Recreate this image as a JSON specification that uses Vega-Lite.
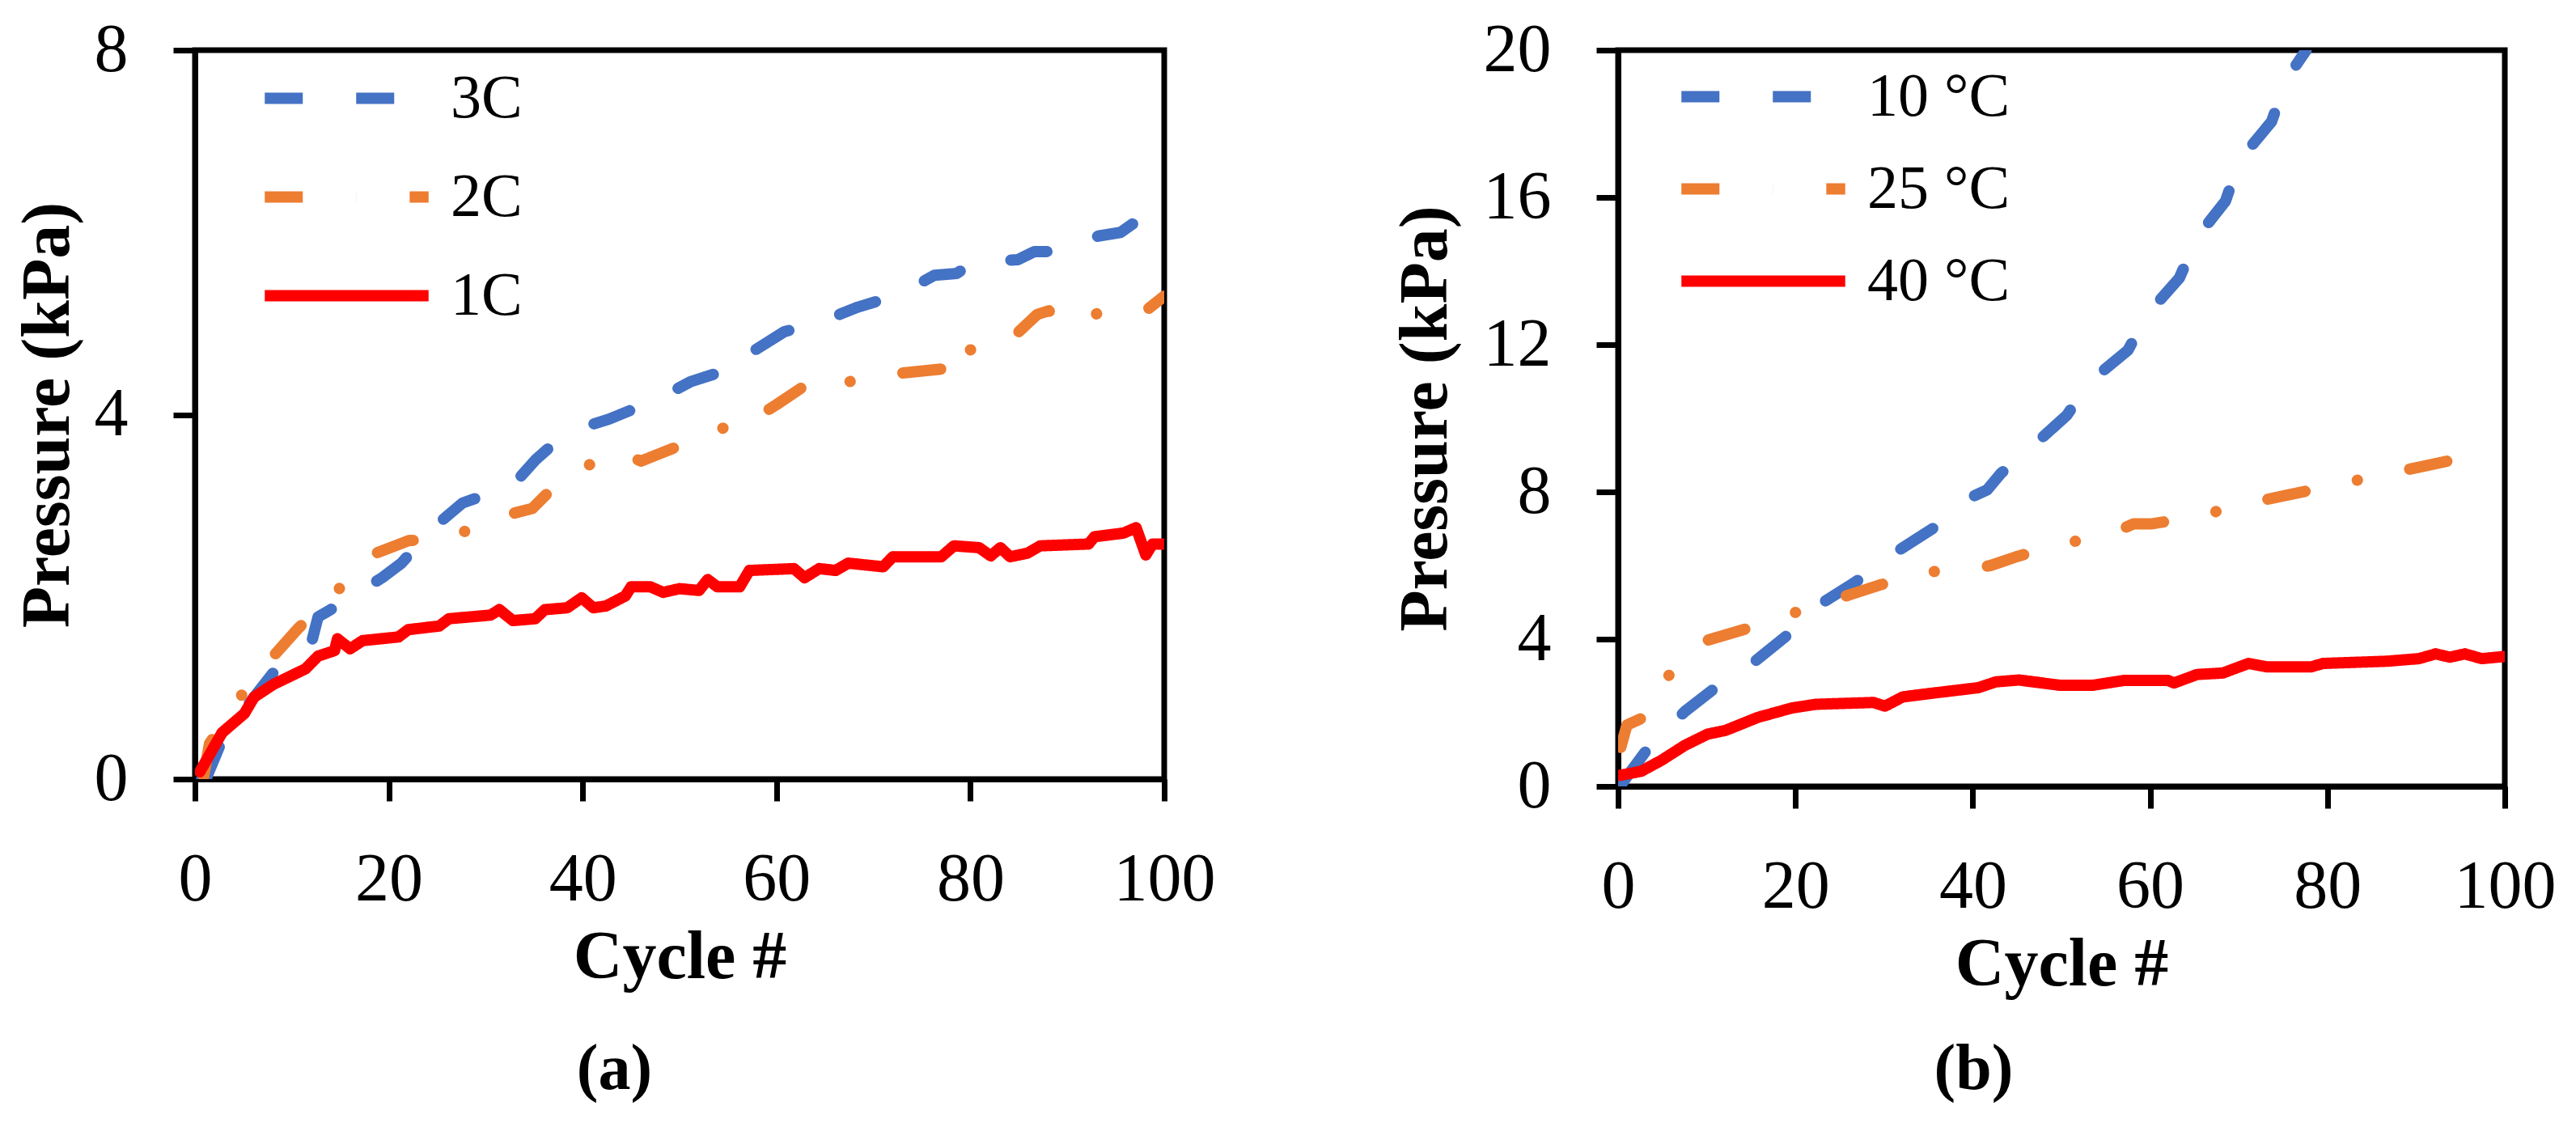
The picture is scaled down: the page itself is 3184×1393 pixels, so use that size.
{
  "$schema": "https://vega.github.io/schema/vega-lite/v6.json",
  "background": "white",
  "padding": {"left": 13, "top": 16, "right": 0, "bottom": 0},
  "spacing": 210,
  "config": {
    "font": "Liberation Serif",
    "view": {"stroke": "black", "strokeWidth": 7},
    "axis": {
      "grid": false,
      "domainColor": "black",
      "domainWidth": 7,
      "tickColor": "black",
      "tickWidth": 7,
      "tickSize": 27,
      "labelFont": "Liberation Serif",
      "labelFontSize": 84,
      "labelColor": "black",
      "labelPadding": 56,
      "labelFlush": false,
      "labelOverlap": false,
      "titleFont": "Liberation Serif",
      "titleFontSize": 84,
      "titleFontWeight": "bold",
      "titleColor": "black"
    },
    "legend": {
      "title": null,
      "orient": "none",
      "symbolType": "M-1.5,0H1.5",
      "symbolSize": 18225,
      "symbolStrokeWidth": 15,
      "labelFont": "Liberation Serif",
      "labelFontSize": 76,
      "labelColor": "black",
      "labelLimit": 0,
      "labelOffset": 54,
      "padding": 0
    },
    "title": {"font": "Liberation Serif", "fontSize": 80, "fontWeight": "bold", "color": "black"},
    "line": {"strokeWidth": 14, "strokeCap": "round", "strokeJoin": "round"}
  },
  "datasets": {
    "a": [
      {"series": "3C", "cycle": 0.7, "pressure": 0},
      {"series": "3C", "cycle": 1.2, "pressure": 0.02},
      {"series": "3C", "cycle": 2.8, "pressure": 0.43},
      {"series": "3C", "cycle": 5, "pressure": 0.75},
      {"series": "3C", "cycle": 8.1, "pressure": 1.17},
      {"series": "3C", "cycle": 10, "pressure": 1.3},
      {"series": "3C", "cycle": 12, "pressure": 1.49},
      {"series": "3C", "cycle": 12.7, "pressure": 1.78},
      {"series": "3C", "cycle": 14, "pressure": 1.86},
      {"series": "3C", "cycle": 16, "pressure": 2.0},
      {"series": "3C", "cycle": 18.1, "pressure": 2.13},
      {"series": "3C", "cycle": 19.3, "pressure": 2.21},
      {"series": "3C", "cycle": 21.3, "pressure": 2.37},
      {"series": "3C", "cycle": 24.6, "pressure": 2.76},
      {"series": "3C", "cycle": 27.6, "pressure": 3.03},
      {"series": "3C", "cycle": 30, "pressure": 3.12},
      {"series": "3C", "cycle": 32.5, "pressure": 3.19},
      {"series": "3C", "cycle": 35.1, "pressure": 3.5},
      {"series": "3C", "cycle": 37, "pressure": 3.68},
      {"series": "3C", "cycle": 39.1, "pressure": 3.83},
      {"series": "3C", "cycle": 42.7, "pressure": 3.95},
      {"series": "3C", "cycle": 45, "pressure": 4.05},
      {"series": "3C", "cycle": 47.4, "pressure": 4.15},
      {"series": "3C", "cycle": 51.1, "pressure": 4.36},
      {"series": "3C", "cycle": 54.6, "pressure": 4.48},
      {"series": "3C", "cycle": 55.5, "pressure": 4.46},
      {"series": "3C", "cycle": 57.5, "pressure": 4.69},
      {"series": "3C", "cycle": 60.8, "pressure": 4.91},
      {"series": "3C", "cycle": 64.4, "pressure": 5.01},
      {"series": "3C", "cycle": 68.4, "pressure": 5.18},
      {"series": "3C", "cycle": 72.7, "pressure": 5.32},
      {"series": "3C", "cycle": 76.3, "pressure": 5.53},
      {"series": "3C", "cycle": 78.6, "pressure": 5.55},
      {"series": "3C", "cycle": 80.3, "pressure": 5.67},
      {"series": "3C", "cycle": 84.9, "pressure": 5.7},
      {"series": "3C", "cycle": 86.6, "pressure": 5.79},
      {"series": "3C", "cycle": 88.9, "pressure": 5.79},
      {"series": "3C", "cycle": 93.2, "pressure": 5.96},
      {"series": "3C", "cycle": 95.5, "pressure": 6.0},
      {"series": "3C", "cycle": 97.1, "pressure": 6.12},
      {"series": "2C", "cycle": 0.9, "pressure": 0.03},
      {"series": "2C", "cycle": 1.5, "pressure": 0.39},
      {"series": "2C", "cycle": 4.5, "pressure": 0.88},
      {"series": "2C", "cycle": 7.75, "pressure": 1.31},
      {"series": "2C", "cycle": 10.7, "pressure": 1.66},
      {"series": "2C", "cycle": 14.4, "pressure": 2.03},
      {"series": "2C", "cycle": 17.7, "pressure": 2.44},
      {"series": "2C", "cycle": 22.1, "pressure": 2.62},
      {"series": "2C", "cycle": 25.9, "pressure": 2.62},
      {"series": "2C", "cycle": 30.4, "pressure": 2.85},
      {"series": "2C", "cycle": 34.8, "pressure": 2.97},
      {"series": "2C", "cycle": 38.1, "pressure": 3.32},
      {"series": "2C", "cycle": 41.7, "pressure": 3.5},
      {"series": "2C", "cycle": 43.7, "pressure": 3.6},
      {"series": "2C", "cycle": 46, "pressure": 3.49},
      {"series": "2C", "cycle": 50.5, "pressure": 3.68},
      {"series": "2C", "cycle": 54.9, "pressure": 3.87},
      {"series": "2C", "cycle": 56.2, "pressure": 3.89},
      {"series": "2C", "cycle": 57.5, "pressure": 4.03},
      {"series": "2C", "cycle": 58.5, "pressure": 4.01},
      {"series": "2C", "cycle": 60, "pressure": 4.11},
      {"series": "2C", "cycle": 63.5, "pressure": 4.36},
      {"series": "2C", "cycle": 65.8, "pressure": 4.43},
      {"series": "2C", "cycle": 67.4, "pressure": 4.36},
      {"series": "2C", "cycle": 72.4, "pressure": 4.45},
      {"series": "2C", "cycle": 77, "pressure": 4.5},
      {"series": "2C", "cycle": 78.2, "pressure": 4.38},
      {"series": "2C", "cycle": 79.5, "pressure": 4.7},
      {"series": "2C", "cycle": 83.8, "pressure": 4.79},
      {"series": "2C", "cycle": 86.9, "pressure": 5.1},
      {"series": "2C", "cycle": 88.1, "pressure": 5.14},
      {"series": "2C", "cycle": 89.2, "pressure": 5.01},
      {"series": "2C", "cycle": 90.2, "pressure": 5.05},
      {"series": "2C", "cycle": 94.2, "pressure": 5.13},
      {"series": "2C", "cycle": 98.1, "pressure": 5.14},
      {"series": "2C", "cycle": 100, "pressure": 5.3},
      {"series": "1C", "cycle": 0.5, "pressure": 0.08},
      {"series": "1C", "cycle": 2.8, "pressure": 0.51},
      {"series": "1C", "cycle": 5.1, "pressure": 0.72},
      {"series": "1C", "cycle": 6.1, "pressure": 0.9},
      {"series": "1C", "cycle": 8.1, "pressure": 1.04},
      {"series": "1C", "cycle": 11.4, "pressure": 1.21},
      {"series": "1C", "cycle": 12.7, "pressure": 1.35},
      {"series": "1C", "cycle": 14.4, "pressure": 1.41},
      {"series": "1C", "cycle": 14.7, "pressure": 1.54},
      {"series": "1C", "cycle": 16, "pressure": 1.43},
      {"series": "1C", "cycle": 17.3, "pressure": 1.52},
      {"series": "1C", "cycle": 21, "pressure": 1.56},
      {"series": "1C", "cycle": 22, "pressure": 1.64},
      {"series": "1C", "cycle": 25.2, "pressure": 1.68},
      {"series": "1C", "cycle": 26.2, "pressure": 1.76},
      {"series": "1C", "cycle": 30.5, "pressure": 1.8},
      {"series": "1C", "cycle": 31.4, "pressure": 1.86},
      {"series": "1C", "cycle": 32.8, "pressure": 1.74},
      {"series": "1C", "cycle": 35.1, "pressure": 1.76},
      {"series": "1C", "cycle": 36.1, "pressure": 1.86},
      {"series": "1C", "cycle": 38.4, "pressure": 1.88},
      {"series": "1C", "cycle": 39.9, "pressure": 1.99},
      {"series": "1C", "cycle": 41.1, "pressure": 1.88},
      {"series": "1C", "cycle": 42.4, "pressure": 1.9},
      {"series": "1C", "cycle": 44.4, "pressure": 2.01},
      {"series": "1C", "cycle": 45, "pressure": 2.11},
      {"series": "1C", "cycle": 47, "pressure": 2.11},
      {"series": "1C", "cycle": 48.3, "pressure": 2.05},
      {"series": "1C", "cycle": 50, "pressure": 2.09},
      {"series": "1C", "cycle": 52, "pressure": 2.07},
      {"series": "1C", "cycle": 52.9, "pressure": 2.19},
      {"series": "1C", "cycle": 53.9, "pressure": 2.11},
      {"series": "1C", "cycle": 56.2, "pressure": 2.11},
      {"series": "1C", "cycle": 57.2, "pressure": 2.29},
      {"series": "1C", "cycle": 61.8, "pressure": 2.31},
      {"series": "1C", "cycle": 62.9, "pressure": 2.21},
      {"series": "1C", "cycle": 64.4, "pressure": 2.31},
      {"series": "1C", "cycle": 66.1, "pressure": 2.29},
      {"series": "1C", "cycle": 67.4, "pressure": 2.37},
      {"series": "1C", "cycle": 71, "pressure": 2.33},
      {"series": "1C", "cycle": 72, "pressure": 2.44},
      {"series": "1C", "cycle": 77, "pressure": 2.44},
      {"series": "1C", "cycle": 78.3, "pressure": 2.56},
      {"series": "1C", "cycle": 80.9, "pressure": 2.54},
      {"series": "1C", "cycle": 82.1, "pressure": 2.45},
      {"series": "1C", "cycle": 83.1, "pressure": 2.54},
      {"series": "1C", "cycle": 84.1, "pressure": 2.44},
      {"series": "1C", "cycle": 85.9, "pressure": 2.48},
      {"series": "1C", "cycle": 87.2, "pressure": 2.56},
      {"series": "1C", "cycle": 92.2, "pressure": 2.58},
      {"series": "1C", "cycle": 92.8, "pressure": 2.66},
      {"series": "1C", "cycle": 95.8, "pressure": 2.7},
      {"series": "1C", "cycle": 97.1, "pressure": 2.76},
      {"series": "1C", "cycle": 98.1, "pressure": 2.46},
      {"series": "1C", "cycle": 98.8, "pressure": 2.58},
      {"series": "1C", "cycle": 100, "pressure": 2.58}
    ],
    "b": [
      {"series": "10 °C", "cycle": 0.5, "pressure": 0.1},
      {"series": "10 °C", "cycle": 3.6, "pressure": 1.11},
      {"series": "10 °C", "cycle": 7.5, "pressure": 2.03},
      {"series": "10 °C", "cycle": 11.5, "pressure": 2.78},
      {"series": "10 °C", "cycle": 15.4, "pressure": 3.39},
      {"series": "10 °C", "cycle": 19.3, "pressure": 4.15},
      {"series": "10 °C", "cycle": 23.2, "pressure": 5.01},
      {"series": "10 °C", "cycle": 27.2, "pressure": 5.62},
      {"series": "10 °C", "cycle": 31.1, "pressure": 6.33},
      {"series": "10 °C", "cycle": 35.4, "pressure": 6.99},
      {"series": "10 °C", "cycle": 39.3, "pressure": 7.8},
      {"series": "10 °C", "cycle": 41.6, "pressure": 8.05},
      {"series": "10 °C", "cycle": 43.2, "pressure": 8.51},
      {"series": "10 °C", "cycle": 47.1, "pressure": 9.32},
      {"series": "10 °C", "cycle": 50.6, "pressure": 10.08},
      {"series": "10 °C", "cycle": 53.2, "pressure": 10.99},
      {"series": "10 °C", "cycle": 57.5, "pressure": 11.85},
      {"series": "10 °C", "cycle": 59.7, "pressure": 12.83},
      {"series": "10 °C", "cycle": 63.3, "pressure": 13.81},
      {"series": "10 °C", "cycle": 65.3, "pressure": 14.92},
      {"series": "10 °C", "cycle": 68.5, "pressure": 15.9},
      {"series": "10 °C", "cycle": 70.1, "pressure": 17.02},
      {"series": "10 °C", "cycle": 73.7, "pressure": 18.06},
      {"series": "10 °C", "cycle": 75.3, "pressure": 19.18},
      {"series": "10 °C", "cycle": 77.6, "pressure": 20},
      {"series": "25 °C", "cycle": 0.3, "pressure": 1.06},
      {"series": "25 °C", "cycle": 1, "pressure": 1.67},
      {"series": "25 °C", "cycle": 3.3, "pressure": 1.92},
      {"series": "25 °C", "cycle": 5.9, "pressure": 3.09},
      {"series": "25 °C", "cycle": 9.8, "pressure": 3.95},
      {"series": "25 °C", "cycle": 14.7, "pressure": 4.3},
      {"series": "25 °C", "cycle": 19.8, "pressure": 4.71},
      {"series": "25 °C", "cycle": 24.9, "pressure": 5.11},
      {"series": "25 °C", "cycle": 29.5, "pressure": 5.47},
      {"series": "25 °C", "cycle": 34.7, "pressure": 5.82},
      {"series": "25 °C", "cycle": 40.1, "pressure": 5.92},
      {"series": "25 °C", "cycle": 42, "pressure": 6.0},
      {"series": "25 °C", "cycle": 44.8, "pressure": 6.23},
      {"series": "25 °C", "cycle": 50.1, "pressure": 6.6},
      {"series": "25 °C", "cycle": 55.2, "pressure": 6.81},
      {"series": "25 °C", "cycle": 58.1, "pressure": 7.13},
      {"series": "25 °C", "cycle": 60.1, "pressure": 7.13},
      {"series": "25 °C", "cycle": 65.3, "pressure": 7.33},
      {"series": "25 °C", "cycle": 70.5, "pressure": 7.66},
      {"series": "25 °C", "cycle": 75.6, "pressure": 7.92},
      {"series": "25 °C", "cycle": 80.7, "pressure": 8.18},
      {"series": "25 °C", "cycle": 85.7, "pressure": 8.44},
      {"series": "25 °C", "cycle": 90.9, "pressure": 8.7},
      {"series": "25 °C", "cycle": 96.1, "pressure": 8.97},
      {"series": "40 °C", "cycle": 0.2, "pressure": 0.3},
      {"series": "40 °C", "cycle": 2.6, "pressure": 0.41},
      {"series": "40 °C", "cycle": 4.9, "pressure": 0.71},
      {"series": "40 °C", "cycle": 7.5, "pressure": 1.11},
      {"series": "40 °C", "cycle": 10.1, "pressure": 1.42},
      {"series": "40 °C", "cycle": 12.1, "pressure": 1.52},
      {"series": "40 °C", "cycle": 15.7, "pressure": 1.87},
      {"series": "40 °C", "cycle": 19.6, "pressure": 2.13},
      {"series": "40 °C", "cycle": 22.3, "pressure": 2.23},
      {"series": "40 °C", "cycle": 28.8, "pressure": 2.28},
      {"series": "40 °C", "cycle": 30.1, "pressure": 2.18},
      {"series": "40 °C", "cycle": 32.1, "pressure": 2.43},
      {"series": "40 °C", "cycle": 35.4, "pressure": 2.53},
      {"series": "40 °C", "cycle": 40.6, "pressure": 2.68},
      {"series": "40 °C", "cycle": 42.6, "pressure": 2.84},
      {"series": "40 °C", "cycle": 45.2, "pressure": 2.89},
      {"series": "40 °C", "cycle": 49.7, "pressure": 2.75},
      {"series": "40 °C", "cycle": 53.6, "pressure": 2.75},
      {"series": "40 °C", "cycle": 57.1, "pressure": 2.88},
      {"series": "40 °C", "cycle": 62, "pressure": 2.88},
      {"series": "40 °C", "cycle": 62.7, "pressure": 2.81},
      {"series": "40 °C", "cycle": 65.3, "pressure": 3.04},
      {"series": "40 °C", "cycle": 68.2, "pressure": 3.08},
      {"series": "40 °C", "cycle": 71.1, "pressure": 3.34},
      {"series": "40 °C", "cycle": 73.1, "pressure": 3.25},
      {"series": "40 °C", "cycle": 78.2, "pressure": 3.25},
      {"series": "40 °C", "cycle": 79.5, "pressure": 3.34},
      {"series": "40 °C", "cycle": 86.7, "pressure": 3.4},
      {"series": "40 °C", "cycle": 90.3, "pressure": 3.47},
      {"series": "40 °C", "cycle": 92.2, "pressure": 3.6},
      {"series": "40 °C", "cycle": 93.8, "pressure": 3.51},
      {"series": "40 °C", "cycle": 95.5, "pressure": 3.6},
      {"series": "40 °C", "cycle": 97.4, "pressure": 3.47},
      {"series": "40 °C", "cycle": 100, "pressure": 3.53}
    ]
  },
  "hconcat": [
    {
      "width": 1198,
      "height": 901,
      "data": {"name": "a"},
      "title": {"text": "(a)", "orient": "bottom", "anchor": "middle", "frame": "bounds", "offset": 58},
      "mark": {"type": "line", "clip": true},
      "encoding": {
        "x": {
          "field": "cycle", "type": "quantitative",
          "scale": {"domain": [0, 100], "nice": false},
          "axis": {"values": [0, 20, 40, 60, 80, 100], "title": "Cycle #", "titlePadding": 13}
        },
        "y": {
          "field": "pressure", "type": "quantitative",
          "scale": {"domain": [0, 8], "nice": false},
          "axis": {"values": [0, 4, 8], "title": "Pressure (kPa)", "titlePadding": 14}
        },
        "color": {
          "field": "series", "type": "nominal",
          "scale": {"domain": ["3C", "2C", "1C"], "range": ["#4472C4", "#ED7D31", "#FF0000"]},
          "legend": {
            "legendX": 113, "legendY": -15, "rowPadding": 9,
            "encode": {"symbols": {"update": {"strokeCap": {"value": "round"}}}}
          }
        },
        "strokeDash": {
          "field": "series", "type": "nominal",
          "scale": {"domain": ["3C", "2C", "1C"], "range": [[47, 66], [47, 66, 0.1, 66], [1, 0]]}
        }
      }
    },
    {
      "width": 1096,
      "height": 910,
      "data": {"name": "b"},
      "title": {"text": "(b)", "orient": "bottom", "anchor": "middle", "frame": "bounds", "offset": 49},
      "mark": {"type": "line", "clip": true},
      "encoding": {
        "x": {
          "field": "cycle", "type": "quantitative",
          "scale": {"domain": [0, 100], "nice": false},
          "axis": {"values": [0, 20, 40, 60, 80, 100], "title": "Cycle #", "titlePadding": 13}
        },
        "y": {
          "field": "pressure", "type": "quantitative",
          "scale": {"domain": [0, 20], "nice": false},
          "axis": {"values": [0, 4, 8, 12, 16, 20], "title": "Pressure (kPa)", "titlePadding": 28}
        },
        "color": {
          "field": "series", "type": "nominal",
          "scale": {"domain": ["10 °C", "25 °C", "40 °C"], "range": ["#4472C4", "#ED7D31", "#FF0000"]},
          "legend": {
            "legendX": 105, "legendY": -17, "rowPadding": 1,
            "encode": {"symbols": {"update": {"strokeCap": {"value": "round"}}}}
          }
        },
        "strokeDash": {
          "field": "series", "type": "nominal",
          "scale": {"domain": ["10 °C", "25 °C", "40 °C"], "range": [[47, 66], [47, 66, 0.1, 66], [1, 0]]}
        }
      }
    }
  ],
  "resolve": {"scale": {"color": "independent", "strokeDash": "independent"}, "legend": {"color": "independent", "strokeDash": "independent"}}
}
